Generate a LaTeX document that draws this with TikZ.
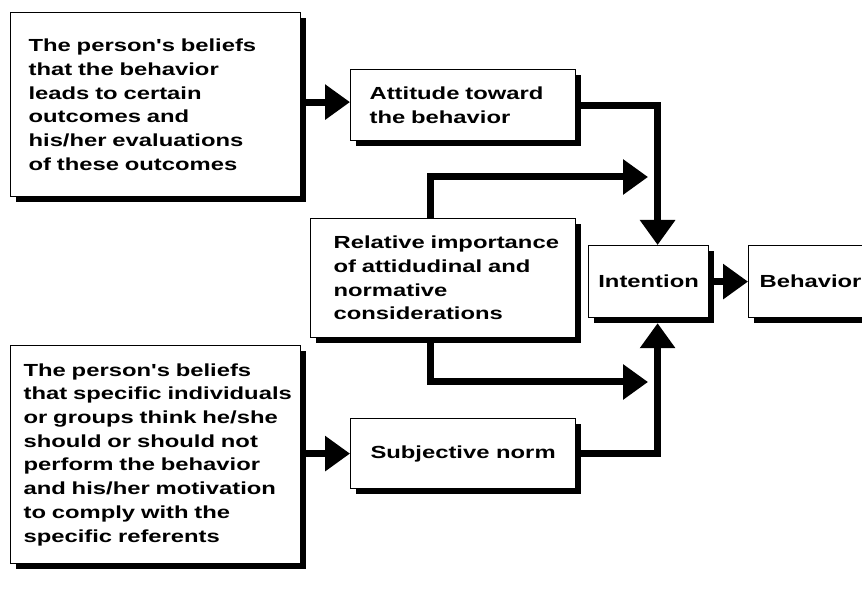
\documentclass[tikz,border=0pt]{standalone}
\usepackage{fontspec}
\newfontfamily\diagfont{Liberation Sans}[FakeStretch=1.36]
\usetikzlibrary{arrows.meta,shadows}
\begin{document}
\begin{tikzpicture}[x=1pt,y=-1pt,
  box/.style={draw=black, line width=1.2pt, fill=white, anchor=north west,
    inner ysep=0pt,
    font=\diagfont\bfseries\fontsize{17.5pt}{23.7pt}\selectfont,
    drop shadow={shadow xshift=5pt,shadow yshift=-5pt,fill=black,opacity=1}},
  conn/.style={line width=7pt, -{Triangle[length=25pt,width=34pt]}}
]
\fill[white] (0,0) rectangle (862,601);
\useasboundingbox (0,0) rectangle (862,601);

\node[box, minimum width=290pt, minimum height=184pt, text width=254pt,
  inner xsep=18pt, align=left] (beliefA) at (10,12)
  {\mbox{The person's beliefs}\\ \mbox{that the behavior}\\ \mbox{leads to certain}\\
   \mbox{outcomes and}\\ \mbox{his/her evaluations}\\ \mbox{of these outcomes}};

\node[box, minimum width=225pt, minimum height=71pt, text width=187pt,
  inner xsep=19pt, align=left] (att) at (350,69)
  {\mbox{Attitude toward}\\ \mbox{the behavior}};

\node[box, minimum width=265pt, minimum height=119pt, text width=219pt,
  inner xsep=23pt, align=left] (rel) at (310,218)
  {\mbox{Relative importance}\\ \mbox{of attidudinal and}\\ \mbox{normative}\\ \mbox{considerations}};

\node[box, minimum width=120pt, minimum height=72pt] (int) at (588,245) {Intention};

\node[box, minimum width=127pt, minimum height=72pt, text width=105pt,
  inner xsep=11pt, align=left] (beh) at (748,245) {Behavior};

\node[box, minimum width=225pt, minimum height=70pt] (subj) at (350,418) {Subjective norm};

\node[box, minimum width=290pt, minimum height=218pt, text width=264pt,
  inner xsep=13pt, align=left] (beliefB) at (10,345)
  {\mbox{The person's beliefs}\\ \mbox{that specific individuals}\\ \mbox{or groups think he/she}\\
   \mbox{should or should not}\\ \mbox{perform the behavior}\\ \mbox{and his/her motivation}\\
   \mbox{to comply with the}\\ \mbox{specific referents}};

\coordinate (upTip) at (648,177);
\coordinate (dnTip) at (648,382);

\draw[conn] ([yshift=3pt]beliefA.east |- att.west) -- ([yshift=3pt]att.west);
\draw[conn] (att.east) -| ([xshift=9pt]int.north);
\draw[conn] ([xshift=-12.5pt]rel.north) |- (upTip);
\draw[conn] ([xshift=-12.5pt]rel.south) |- (dnTip);
\draw[conn] (subj.east) -| ([xshift=9pt,yshift=-5pt]int.south);
\draw[conn] (int.east) -- (beh.west);
\draw[conn] (beliefB.east |- subj.west) -- (subj.west);
\end{tikzpicture}
\end{document}
